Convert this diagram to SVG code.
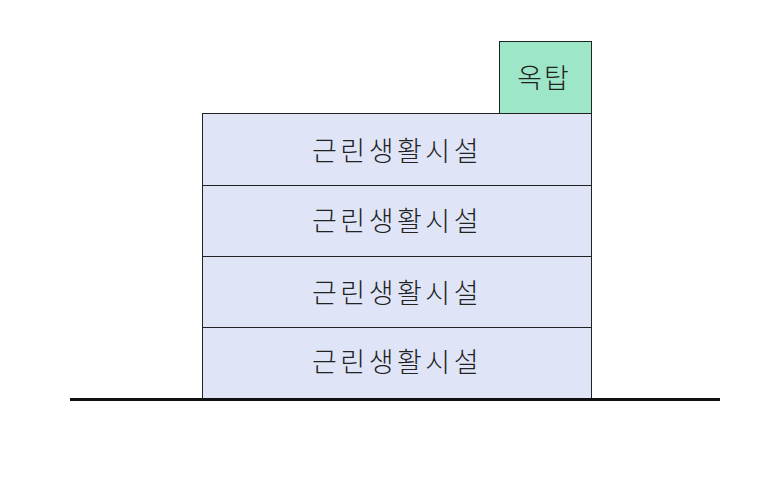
<svg xmlns="http://www.w3.org/2000/svg" width="758" height="493" viewBox="0 0 758 493">
<style>
.fl{fill:#dfe4f6;stroke:#222;stroke-width:1}
.rf{fill:#9ee6c8;stroke:#222;stroke-width:1}
text{font-family:"Noto Sans CJK KR","Noto Sans",sans-serif;font-size:27px;fill:#222;text-anchor:middle;dominant-baseline:central;font-weight:300}
.t{letter-spacing:3.5px}
</style>
<rect width="758" height="493" fill="#fff"/>
<g id="roof"><rect class="rf" x="499.5" y="41.5" width="92" height="72"/><text x="544" y="76" style="letter-spacing:2px">옥탑</text></g>
<g id="floor4"><rect class="fl" x="202.5" y="113.5" width="389" height="72"/><text class="t" x="397" y="149">근린생활시설</text></g>
<g id="floor3"><rect class="fl" x="202.5" y="185.5" width="389" height="71"/><text class="t" x="397" y="219">근린생활시설</text></g>
<g id="floor2"><rect class="fl" x="202.5" y="256.5" width="389" height="71"/><text class="t" x="397" y="291">근린생활시설</text></g>
<g id="floor1"><rect class="fl" x="202.5" y="327.5" width="389" height="71"/><text class="t" x="397" y="360">근린생활시설</text></g>
<g id="ground"><line x1="70" y1="399.5" x2="720" y2="399.5" stroke="#111" stroke-width="3"/></g>
</svg>
